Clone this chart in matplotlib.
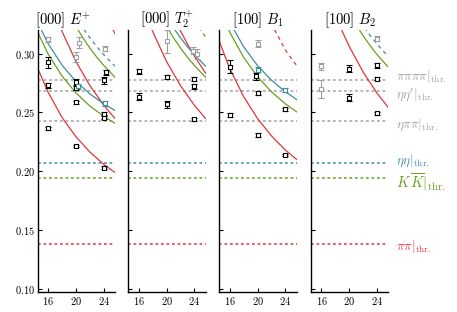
import matplotlib
matplotlib.use("Agg")
import matplotlib.pyplot as plt
from matplotlib.ticker import FuncFormatter

plt.rcParams['mathtext.fontset'] = 'cm'
plt.rcParams['font.family'] = 'serif'

RED = "#e0353b"
GREEN = "#6a9e1f"
TEAL = "#3f8e98"
GREY = "#a0a0a0"

# panel titles
titles = [r'$[000]\ E^{+}$', r'$[000]\ T_2^{+}$', r'$[100]\ B_1$', r'$[100]\ B_2$']

# thresholds (energy, label, colour)
thr_vals = [0.2772, 0.2680, 0.2423, 0.2074, 0.1940, 0.1386]
thr_labels = [r'$\pi\pi\pi\pi|_{\mathrm{thr.}}$', r"$\eta\eta^{\prime}|_{\mathrm{thr.}}$",
              r'$\eta\pi\pi|_{\mathrm{thr.}}$', r'$\eta\eta|_{\mathrm{thr.}}$',
              r'$K\,\overline{K}|_{\mathrm{thr.}}$', r'$\pi\pi|_{\mathrm{thr.}}$']
thr_colors = [GREY, GREY, GREY, TEAL, GREEN, RED]
thr_label_y = [0.2805, 0.2655, 0.2395, 0.2090, 0.1910, 0.1365]
thr_label_fs = [9.5, 9.5, 9.5, 9.5, 10.5, 9.5]

# non-interacting curves
Lc = [14.5, 16, 18, 20, 22, 24, 25.6]
pipi1 = [0.2875, 0.2671, 0.2457, 0.2293, 0.2163, 0.2058, 0.1990]
pipi2 = [0.3823, 0.3514, 0.3187, 0.2931, 0.2727, 0.2560, 0.2448]
kk1 = [0.3180, 0.2996, 0.2808, 0.2665, 0.2554, 0.2466, 0.2408]
etaeta1 = [0.3263, 0.3084, 0.2901, 0.2763, 0.2657, 0.2572, 0.2517]

Lc4 = [24, 25, 25.6]
pipi4 = [0.3344, 0.3234, 0.3170]

Lh = [18, 20, 21, 22, 23, 24, 25.6]
kk2 = [0.3464, 0.3230, 0.3133, 0.3046, 0.2968, 0.2898, 0.2799]

Lh2 = [20, 21, 22, 23, 24, 25.6]
etaeta2 = [0.3312, 0.3217, 0.3133, 0.3057, 0.2989, 0.2893]
pipi3 = [0.3454, 0.3316, 0.3193, 0.3080, 0.2978, 0.2833]

Lk3 = [24, 25, 25.6]
kk3 = [0.3273, 0.3189, 0.3142]

b1_red = [0.3103, 0.2872, 0.2634, 0.2447, 0.2300, 0.2180, 0.2101]
b1_green = [0.3392, 0.3182, 0.2967, 0.2803, 0.2674, 0.2572, 0.2505]
b1_teal = [0.3471, 0.3267, 0.3057, 0.2897, 0.2773, 0.2674, 0.2610]
Lb1d = [22, 22.5, 23, 24, 25, 25.6]
b1_red_dash = [0.3260, 0.3195, 0.3140, 0.3030, 0.2945, 0.2900]

Lb2 = [18, 19, 20, 22, 24, 25.6]
b2_red = [0.3331, 0.3187, 0.3060, 0.2841, 0.2662, 0.2542]
Lb2g = [20, 21.5, 22, 23, 24, 25.6]
b2_green = [0.3348, 0.3196, 0.3150, 0.3066, 0.2990, 0.2884]
Lb2t = [21, 22.5, 23, 24, 25.6]
b2_teal = [0.3326, 0.3192, 0.3152, 0.3079, 0.2975]

# spectrum points: (L, E, err)
p1_black_L = [16, 16, 16, 20, 20, 20, 20, 24, 24.3, 24, 24, 24]
p1_black_E = [0.2924, 0.2731, 0.2364, 0.2755, 0.2710, 0.2585, 0.2217, 0.2774, 0.2840, 0.2490, 0.2455, 0.2031]
p1_black_e = [0.005, 0.002, 0.0015, 0.003, 0.002, 0.0015, 0.001, 0.003, 0.002, 0.0015, 0.0015, 0.001]
p1_grey_L = [16, 20.4, 20.0, 24.2]
p1_grey_E = [0.3121, 0.3093, 0.2971, 0.3042]
p1_grey_e = [0.002, 0.005, 0.004, 0.002]
p1_teal_L = [20.3, 24.1]
p1_teal_E = [0.2723, 0.2576]
p1_teal_e = [0.002, 0.002]

p2_black_L = [16, 16, 20, 20, 24, 24, 24]
p2_black_E = [0.2850, 0.2632, 0.2802, 0.2568, 0.2782, 0.2723, 0.2441]
p2_black_e = [0.002, 0.003, 0.002, 0.003, 0.0015, 0.002, 0.0015]
p2_grey_L = [20, 23.8, 24.4]
p2_grey_E = [0.3104, 0.3025, 0.2995]
p2_grey_e = [0.010, 0.003, 0.004]

p3_black_L = [16, 16, 19.7, 20, 20, 24, 24]
p3_black_E = [0.2887, 0.2477, 0.2808, 0.2666, 0.2308, 0.2525, 0.2138]
p3_black_e = [0.0055, 0.002, 0.003, 0.002, 0.0015, 0.0015, 0.001]
p3_grey_L = [20]
p3_grey_E = [0.3085]
p3_grey_e = [0.003]
p3_teal_L = [20.1, 24]
p3_teal_E = [0.2864, 0.2689]
p3_teal_e = [0.002, 0.0015]

p4_black_L = [20, 20, 24, 24, 24]
p4_black_E = [0.2873, 0.2624, 0.2900, 0.2788, 0.2491]
p4_black_e = [0.003, 0.003, 0.002, 0.001, 0.001]
p4_grey_L = [16, 16, 24]
p4_grey_E = [0.2892, 0.2698, 0.3127]
p4_grey_e = [0.003, 0.0075, 0.002]

fig = plt.figure(figsize=(4.57, 3.12), dpi=100)
lefts = [37.7, 128.3, 219.3, 311.0]
axes = []
for i, lp in enumerate(lefts):
    ax = fig.add_axes([lp / 457, 1 - 292 / 312, 77.3 / 457, 262 / 312])
    axes.append(ax)


def pts(ax, L, E, err, col):
    ax.errorbar(L, E, yerr=err, fmt='s', color=col, mfc='white', ms=3.2, mew=0.8,
                elinewidth=0.8, capsize=2.4, capthick=0.9, zorder=5)


lw = 0.9
# panel 1
ax = axes[0]
ax.plot(Lc, pipi1, color=RED, lw=lw)
ax.plot(Lc, pipi2, color=RED, lw=lw)
ax.plot(Lc4, pipi4, color=RED, lw=lw)
ax.plot(Lc, kk1, color=GREEN, lw=lw)
ax.plot(Lh, kk2, color=GREEN, lw=lw)
ax.plot(Lc, etaeta1, color=TEAL, lw=lw)
ax.plot(Lh2, etaeta2, color=TEAL, lw=lw, ls=(0, (3, 3)))
pts(ax, p1_grey_L, p1_grey_E, p1_grey_e, GREY)
pts(ax, p1_black_L, p1_black_E, p1_black_e, 'black')
pts(ax, p1_teal_L, p1_teal_E, p1_teal_e, TEAL)

# panel 2
ax = axes[1]
ax.plot(Lc, pipi2, color=RED, lw=lw)
ax.plot(Lh2, pipi3, color=RED, lw=lw)
ax.plot(Lh, kk2, color=GREEN, lw=lw)
ax.plot(Lk3, kk3, color=GREEN, lw=lw, ls=(0, (3, 3)))
ax.plot(Lh2, etaeta2, color=TEAL, lw=lw)
pts(ax, p2_grey_L, p2_grey_E, p2_grey_e, GREY)
pts(ax, p2_black_L, p2_black_E, p2_black_e, 'black')

# panel 3
ax = axes[2]
ax.plot(Lc, b1_red, color=RED, lw=lw)
ax.plot(Lc, b1_green, color=GREEN, lw=lw)
ax.plot(Lc, b1_teal, color=TEAL, lw=lw)
ax.plot(Lb1d, b1_red_dash, color=RED, lw=lw, ls=(0, (3, 3)))
pts(ax, p3_grey_L, p3_grey_E, p3_grey_e, GREY)
pts(ax, p3_black_L, p3_black_E, p3_black_e, 'black')
pts(ax, p3_teal_L, p3_teal_E, p3_teal_e, TEAL)

# panel 4
ax = axes[3]
ax.plot(Lb2, b2_red, color=RED, lw=lw)
ax.plot(Lb2g, b2_green, color=GREEN, lw=lw)
ax.plot(Lb2t, b2_teal, color=TEAL, lw=lw, ls=(0, (3, 3)))
pts(ax, p4_grey_L, p4_grey_E, p4_grey_e, GREY)
pts(ax, p4_black_L, p4_black_E, p4_black_e, 'black')

for i, ax in enumerate(axes):
    for v, c in zip(thr_vals, thr_colors):
        ax.axhline(v, color=c, lw=1.1, ls=(0, (1.8, 1.8)), zorder=1)
    ax.set_xlim(14.5, 25.6)
    ax.set_ylim(0.0975, 0.32)
    ax.set_xticks([16, 20, 24])
    ax.set_yticks([0.10, 0.15, 0.20, 0.25, 0.30])
    ax.xaxis.set_major_formatter(FuncFormatter(lambda v, p: '$%d$' % v))
    ax.yaxis.set_major_formatter(FuncFormatter(lambda v, p: '$%.2f$' % v))
    ax.tick_params(direction='in', length=3, width=0.8, labelsize=7.5, pad=2)
    ax.spines['top'].set_visible(False)
    ax.spines['right'].set_visible(False)
    ax.spines['left'].set_linewidth(1.0)
    ax.spines['bottom'].set_linewidth(1.0)
    if i > 0:
        ax.tick_params(labelleft=False)
    ax.set_title(titles[i], fontsize=10.5, pad=4, x=0.33 if i == 0 else 0.5)

# threshold labels on the right
for y, lab, c, fs in zip(thr_label_y, thr_labels, thr_colors, thr_label_fs):
    axes[3].text(1.1, y, lab, color=c, fontsize=fs, va='center', ha='left',
                 transform=axes[3].get_yaxis_transform())

plt.savefig("out.png", dpi=100)
